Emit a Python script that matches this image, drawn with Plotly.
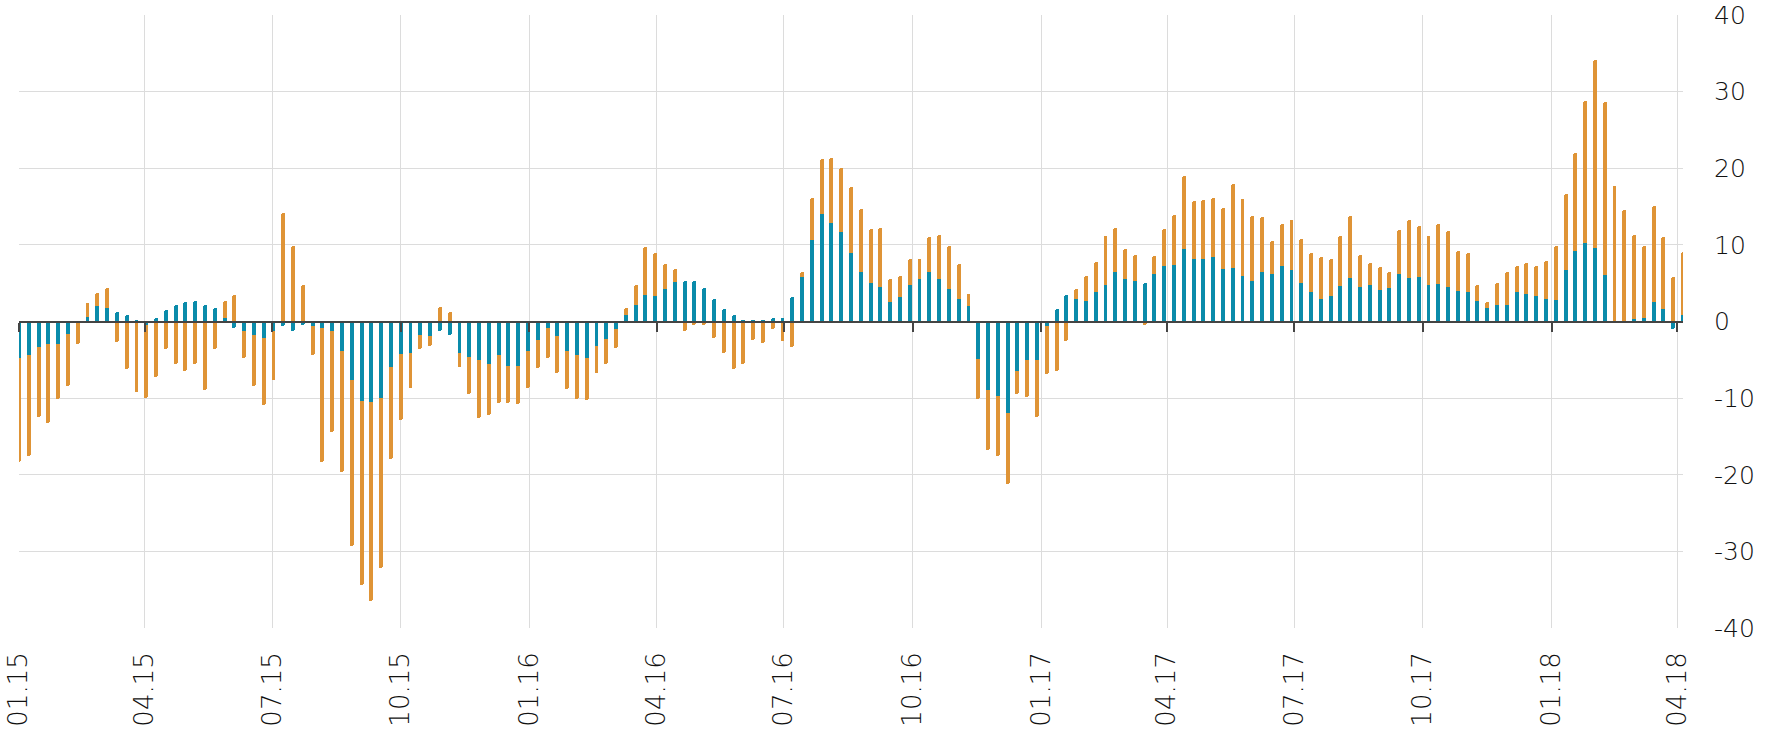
import pandas as pd
import plotly.graph_objects as go

# Weekly observations (Thursdays) from 01.2015 to 04.2018
dates = pd.date_range("2015-01-01", periods=171, freq="7D")

orange_vals = [
    -18.4, -17.5, -12.5, -13.2, -10.1, -8.4, -3.0, 2.4, 3.7, 4.4,
    -2.7, -6.2, -9.2, -10.0, -7.3, -3.6, -5.5, -6.5, -5.5, -8.9,
    -3.6, 2.7, 3.5, -4.8, -8.4, -10.9, -7.6, 14.2, 9.8, 4.7,
    -4.4, -18.4, -14.4, -19.7, -29.3, -34.4, -36.5, -32.2, -17.9, -12.8,
    -8.7, -3.6, -3.2, 1.9, 1.3, -5.9, -9.4, -12.6, -12.2, -10.7,
    -10.7, -10.8, -8.7, -6.1, -4.7, -6.7, -8.8, -10.1, -10.3, -6.7,
    -5.5, -3.5, 1.7, 4.7, 9.7, 9.0, 7.5, 6.8, -1.3, -0.5,
    -0.4, -2.2, -4.1, -6.2, -5.6, -2.4, -2.8, -1.0, -2.6, -3.3,
    6.4, 16.1, 21.2, 21.3, 20.0, 17.5, 14.7, 12.1, 12.2, 5.6,
    6.0, 8.2, 8.2, 11.0, 11.3, 9.9, 7.5, 3.6, -10.1, -16.8,
    -17.6, -21.2, -9.5, -9.8, -12.4, -6.8, -6.5, -2.6, 4.2, 5.9,
    7.8, 11.2, 12.2, 9.5, 8.7, -0.4, 8.5, 12.1, 13.9, 19.0,
    15.7, 15.8, 16.1, 14.8, 17.9, 16.0, 13.8, 13.6, 10.5, 12.7,
    13.3, 10.8, 9.0, 8.4, 8.2, 11.2, 13.8, 8.7, 7.7, 7.1,
    6.5, 11.9, 13.2, 12.4, 11.2, 12.7, 11.8, 9.2, 8.9, 4.7,
    2.5, 5.0, 6.4, 7.3, 7.7, 7.3, 7.9, 9.8, 16.7, 22.0,
    28.8, 34.1, 28.7, 17.7, 14.5, 11.3, 9.8, 15.1, 11.0, 5.8,
    9.1,
]

teal_vals = [
    -4.8, -4.4, -3.3, -3.0, -2.9, -1.6, -0.1, 0.6, 2.0, 1.8,
    1.3, 0.8, 0.1, -0.4, 0.4, 1.5, 2.1, 2.6, 2.7, 2.1,
    1.8, 0.4, -0.8, -1.3, -1.8, -2.1, -1.3, -0.6, -1.2, -0.5,
    -0.6, -0.9, -1.2, -3.8, -7.6, -10.4, -10.5, -10.0, -5.9, -4.2,
    -4.1, -1.7, -1.9, -1.2, -1.8, -4.1, -4.6, -5.0, -5.5, -4.4,
    -5.8, -5.8, -3.8, -2.4, -0.8, -1.9, -3.9, -4.4, -4.8, -3.2,
    -2.3, -1.0, 0.8, 2.2, 3.5, 3.3, 4.2, 5.2, 5.3, 5.3,
    4.4, 2.9, 1.6, 0.8, 0.1, 0.2, 0.2, 0.5, 0.4, 3.2,
    5.8, 10.6, 14.0, 12.8, 11.7, 8.9, 6.4, 5.0, 4.5, 2.6,
    3.2, 4.8, 5.6, 6.5, 5.6, 4.2, 3.0, 2.0, -4.9, -8.9,
    -9.7, -11.9, -6.5, -5.0, -5.0, -0.6, 1.6, 3.5, 3.0, 2.7,
    3.9, 4.8, 6.4, 5.6, 5.3, 5.0, 6.2, 7.3, 7.4, 9.4,
    8.1, 8.1, 8.4, 6.8, 7.0, 5.9, 5.3, 6.4, 6.2, 7.2,
    6.7, 5.0, 3.8, 3.0, 3.3, 4.6, 5.7, 4.5, 4.7, 4.1,
    4.4, 6.2, 5.7, 5.8, 4.8, 4.9, 4.5, 4.0, 3.9, 2.7,
    1.8, 2.1, 2.2, 3.8, 3.6, 3.3, 3.0, 2.8, 6.7, 9.2,
    10.2, 9.6, 6.1, 0.0, 0.0, 0.3, 0.4, 2.5, 1.6, -1.0,
    0.9,
]

x_tick_dates = [
    "2015-01-01", "2015-04-01", "2015-07-01", "2015-10-01",
    "2016-01-01", "2016-04-01", "2016-07-01", "2016-10-01",
    "2017-01-01", "2017-04-01", "2017-07-01", "2017-10-01",
    "2018-01-01", "2018-04-01",
]
x_tick_labels = [
    "01.15", "04.15", "07.15", "10.15", "01.16", "04.16", "07.16",
    "10.16", "01.17", "04.17", "07.17", "10.17", "01.18", "04.18",
]
y_tick_vals = [-40, -30, -20, -10, 0, 10, 20, 30, 40]
y_tick_labels = ["-40", "-30", "-20", "-10", "0", "10", "20", "30", "40"]

ORANGE = "#DF9436"
TEAL = "#0A8BAA"
GRID = "#DCDCDC"
AXIS = "#444444"
TEXT = "#111111"

x_range = ["2015-01-01", "2018-04-05"]
bar_width_ms = 2.8 * 86400000

fig = go.Figure()
fig.add_trace(go.Bar(
    x=dates, y=orange_vals, width=bar_width_ms,
    marker=dict(color=ORANGE, line=dict(width=0), cornerradius=2),
    showlegend=False, hoverinfo="x+y",
))
fig.add_trace(go.Bar(
    x=dates, y=teal_vals, width=bar_width_ms,
    marker=dict(color=TEAL, line=dict(width=0), cornerradius=2),
    showlegend=False, hoverinfo="x+y",
))
# helper trace so the zero-line axis (x2) is drawn
fig.add_trace(go.Scatter(
    x=[dates[0]], y=[None], xaxis="x2", yaxis="y",
    mode="markers", showlegend=False, hoverinfo="skip",
))

fig.update_layout(
    width=1781, height=729,
    margin=dict(l=19, r=98, t=15, b=101, autoexpand=False),
    paper_bgcolor="white", plot_bgcolor="white",
    barmode="overlay",
    bargap=0,
    xaxis=dict(
        type="date", range=x_range,
        tickvals=x_tick_dates, ticktext=x_tick_labels,
        tickangle=-90, automargin=False, ticklabeloverflow="allow",
        tickfont=dict(family="DejaVu Sans", weight=200, size=26, color=TEXT),
        showgrid=True, gridcolor=GRID, gridwidth=1,
        showline=False, zeroline=False, ticks="",
        ticklabelstandoff=18,
    ),
    xaxis2=dict(
        type="date", range=x_range, overlaying="x",
        anchor="free", position=0.5, side="bottom",
        tickvals=x_tick_dates, showticklabels=False, automargin=False,
        showgrid=False, zeroline=False,
        showline=True, linecolor=AXIS, linewidth=2,
        ticks="outside", ticklen=9, tickwidth=2, tickcolor=AXIS,
        layer="above traces",
    ),
    yaxis=dict(
        side="right", range=[-40, 40], automargin=False, ticklabeloverflow="allow",
        tickvals=y_tick_vals, ticktext=y_tick_labels,
        tickfont=dict(family="DejaVu Sans", weight=200, size=25, color=TEXT),
        showgrid=True, gridcolor=GRID, gridwidth=1,
        zeroline=False, showline=False, ticks="",
        ticklabelstandoff=30,
    ),
)

# the page's default 8px body margin would push the figure out of the window
fig.write_html(
    "out.html",
    config={"displayModeBar": False},
    post_script="document.body.style.margin='0';",
)
